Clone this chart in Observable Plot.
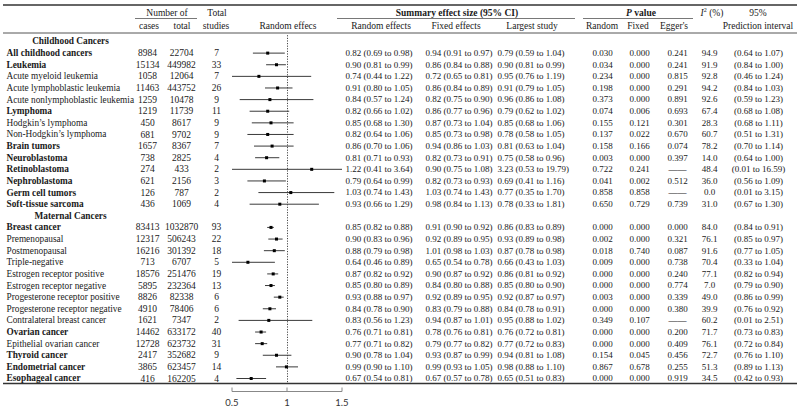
<!DOCTYPE html>
<html><head><meta charset="utf-8">
<script src="https://cdn.jsdelivr.net/npm/d3@7"></script>
<script src="https://cdn.jsdelivr.net/npm/@observablehq/plot@0.6"></script>
<style>
html,body{margin:0;padding:0;background:#fff;}
svg{display:block;}
</style>
</head><body><div id="chart"></div>
<script>
// ---------------- DATA ----------------
const sections = ["Childhood Cancers", "Maternal Cancers"];
const sectionSizes = [14, 14];

const names = [
  "All childhood cancers","Leukemia","Acute myeloid leukemia","Acute lymphoblastic leukemia",
  "Acute nonlymphoblastic leukemia","Lymphoma","Hodgkin\u2019s lymphoma","Non-Hodgkin\u2019s lymphoma",
  "Brain tumors","Neuroblastoma","Retinoblastoma","Nephroblastoma","Germ cell tumors","Soft-tissue sarcoma",
  "Breast cancer","Premenopausal","Postmenopausal","Triple-negative","Estrogen receptor positive",
  "Estrogen receptor negative","Progesterone receptor positive","Progesterone receptor negative",
  "Contralateral breast cancer","Ovarian cancer","Epithelial ovarian cancer","Thyroid cancer",
  "Endometrial cancer","Esophageal cancer"
];
const boldNames = [
  "All childhood cancers","Leukemia","Lymphoma","Brain tumors","Neuroblastoma","Retinoblastoma",
  "Nephroblastoma","Germ cell tumors","Soft-tissue sarcoma","Breast cancer","Ovarian cancer",
  "Thyroid cancer","Endometrial cancer","Esophageal cancer"
];
const cases = [8984,15134,1058,11463,1259,1219,450,681,1657,738,274,621,126,436,
  83413,12317,16216,713,18576,5895,8826,4910,1621,14462,12728,2417,3865,416];
const totals = [22704,449982,12064,443752,10478,11739,8617,9702,8367,2825,433,2156,787,1069,
  1032870,506243,301392,6707,251476,232364,82338,78406,7347,633172,623732,352682,623457,162205];
const studies = [7,33,7,26,9,11,9,9,7,4,2,3,2,4, 93,22,18,5,19,13,6,6,2,40,31,9,14,4];

// random effects (forest plot)
const reEst = [0.82,0.90,0.74,0.91,0.84,0.82,0.85,0.82,0.86,0.81,1.22,0.79,1.03,0.93,
  0.85,0.90,0.88,0.64,0.87,0.85,0.93,0.84,0.83,0.76,0.77,0.90,0.99,0.67];
const reLo = [0.69,0.81,0.44,0.80,0.57,0.66,0.68,0.64,0.70,0.71,0.41,0.64,0.74,0.66,
  0.82,0.83,0.79,0.46,0.82,0.80,0.88,0.78,0.56,0.71,0.71,0.78,0.90,0.54];
const reHi = [0.98,0.99,1.22,1.05,1.24,1.02,1.06,1.06,1.06,0.93,3.64,0.99,1.43,1.29,
  0.88,0.96,0.98,0.89,0.92,0.89,0.97,0.90,1.23,0.81,0.82,1.04,1.10,0.81];

// printed summary effect sizes (95% CI)
const reText = ["0.82 (0.69 to 0.98)","0.90 (0.81 to 0.99)","0.74 (0.44 to 1.22)","0.91 (0.80 to 1.05)",
  "0.84 (0.57 to 1.24)","0.82 (0.66 to 1.02)","0.85 (0.68 to 1.30)","0.82 (0.64 to 1.06)",
  "0.86 (0.70 to 1.06)","0.81 (0.71 to 0.93)","1.22 (0.41 to 3.64)","0.79 (0.64 to 0.99)",
  "1.03 (0.74 to 1.43)","0.93 (0.66 to 1.29)",
  "0.85 (0.82 to 0.88)","0.90 (0.83 to 0.96)","0.88 (0.79 to 0.98)","0.64 (0.46 to 0.89)",
  "0.87 (0.82 to 0.92)","0.85 (0.80 to 0.89)","0.93 (0.88 to 0.97)","0.84 (0.78 to 0.90)",
  "0.83 (0.56 to 1.23)","0.76 (0.71 to 0.81)","0.77 (0.71 to 0.82)","0.90 (0.78 to 1.04)",
  "0.99 (0.90 to 1.10)","0.67 (0.54 to 0.81)"];
const feText = ["0.94 (0.91 to 0.97)","0.86 (0.84 to 0.88)","0.72 (0.65 to 0.81)","0.86 (0.84 to 0.89)",
  "0.82 (0.75 to 0.90)","0.86 (0.77 to 0.96)","0.87 (0.73 to 1.04)","0.85 (0.73 to 0.98)",
  "0.94 (0.86 to 1.03)","0.82 (0.73 to 0.91)","0.90 (0.75 to 1.08)","0.82 (0.73 to 0.93)",
  "1.03 (0.74 to 1.43)","0.98 (0.84 to 1.13)",
  "0.91 (0.90 to 0.92)","0.92 (0.89 to 0.95)","1.01 (0.98 to 1.03)","0.65 (0.54 to 0.78)",
  "0.90 (0.87 to 0.92)","0.84 (0.80 to 0.88)","0.92 (0.89 to 0.95)","0.83 (0.79 to 0.88)",
  "0.94 (0.87 to 1.01)","0.78 (0.76 to 0.81)","0.79 (0.77 to 0.82)","0.93 (0.87 to 0.99)",
  "0.99 (0.93 to 1.05)","0.67 (0.57 to 0.78)"];
const lsText = ["0.79 (0.59 to 1.04)","0.90 (0.81 to 0.99)","0.95 (0.76 to 1.19)","0.91 (0.79 to 1.05)",
  "0.96 (0.86 to 1.08)","0.79 (0.62 to 1.02)","0.85 (0.68 to 1.06)","0.78 (0.58 to 1.05)",
  "0.81 (0.63 to 1.04)","0.75 (0.58 to 0.96)","3.23 (0.53 to 19.79)","0.69 (0.41 to 1.16)",
  "0.77 (0.35 to 1.70)","0.78 (0.33 to 1.81)",
  "0.86 (0.83 to 0.89)","0.93 (0.89 to 0.98)","0.87 (0.78 to 0.98)","0.66 (0.43 to 1.03)",
  "0.86 (0.81 to 0.92)","0.85 (0.80 to 0.90)","0.92 (0.87 to 0.97)","0.84 (0.78 to 0.91)",
  "0.95 (0.88 to 1.02)","0.76 (0.72 to 0.81)","0.77 (0.72 to 0.83)","0.94 (0.81 to 1.08)",
  "0.98 (0.88 to 1.10)","0.65 (0.51 to 0.83)"];
const pRandom = ["0.030","0.034","0.234","0.198","0.373","0.074","0.155","0.137","0.158","0.003","0.722","0.041","0.858","0.650",
  "0.000","0.002","0.018","0.009","0.000","0.000","0.003","0.000","0.349","0.000","0.000","0.154","0.867","0.000"];
const pFixed = ["0.000","0.000","0.000","0.000","0.000","0.006","0.121","0.022","0.166","0.000","0.241","0.002","0.858","0.729",
  "0.000","0.000","0.740","0.000","0.000","0.000","0.000","0.000","0.107","0.000","0.000","0.045","0.678","0.000"];
const pEgger = ["0.241","0.241","0.815","0.291","0.891","0.693","0.301","0.670","0.074","0.397",null,"0.512",null,"0.739",
  "0.000","0.321","0.087","0.738","0.240","0.774","0.339","0.380",null,"0.200","0.409","0.456","0.255","0.919"];
const i2 = ["94.9","91.9","92.8","94.2","92.6","67.4","28.3","60.7","78.2","14.0","48.4","36.0","0.0","31.0",
  "84.0","76.1","91.6","70.4","77.1","7.0","49.0","39.9","60.2","71.7","76.1","72.7","51.3","34.5"];
const predInterval = ["(0.64 to 1.07)","(0.84 to 1.00)","(0.46 to 1.24)","(0.84 to 1.03)","(0.59 to 1.23)",
  "(0.68 to 1.08)","(0.68 to 1.11)","(0.51 to 1.31)","(0.70 to 1.14)","(0.64 to 1.00)","(0.01 to 16.59)",
  "(0.56 to 1.09)","(0.01 to 3.15)","(0.67 to 1.30)",
  "(0.84 to 0.91)","(0.85 to 0.97)","(0.77 to 1.05)","(0.33 to 1.04)","(0.82 to 0.94)","(0.79 to 0.90)",
  "(0.86 to 0.99)","(0.76 to 0.92)","(0.01 to 2.51)","(0.73 to 0.83)","(0.72 to 0.84)","(0.76 to 1.10)",
  "(0.89 to 1.13)","(0.42 to 0.93)"];

const headerTop = ["Number of", "Total", "Summary effect size (95% CI)", "P value", "I2 (%)", "95%"];
const headerSub = ["cases","total","studies","Random effecs","Random effects","Fixed effects",
  "Largest study","Random","Fixed","Egger's","Prediction interval"];
const axisTicks = [0.5, 1, 1.5];

// ---------------- BUILD ROWS ----------------
const sectionRows = [];
const dataRows = [];
{
  let r = 0, k = 0;
  sections.forEach((s, si) => {
    sectionRows.push({row: r++, label: s});
    for (let j = 0; j < sectionSizes[si]; j++, k++) {
      dataRows.push({
        row: r++, name: names[k], bold: boldNames.includes(names[k]),
        cases: String(cases[k]), total: String(totals[k]), studies: String(studies[k]),
        est: reEst[k], lo: reLo[k], hi: reHi[k],
        re: reText[k], fe: feText[k], ls: lsText[k],
        pr: pRandom[k], pf: pFixed[k], pe: pEgger[k] == null ? "\u2014\u2014" : pEgger[k],
        i2: i2[k], pi: predInterval[k]
      });
    }
  });
}
const nRows = sectionRows.length + dataRows.length;

// ---------------- LAYOUT ----------------
const SERIF = "'Liberation Serif','Times New Roman',Times,serif";
const SANS = "Lato,'Open Sans',sans-serif";
const FS = 9.5;
const NFS = 9.3;
const INK = "#1a1a1a";
const colX = {name: 6, section: 70, cases: 147, total: 181, studies: 216,
  re: 345, fe: 425, ls: 497, pr: 602, pf: 639, pe: 677, i2: 709, pi: 758};
const topX = [167, 217, 457, 641, 712, 758];
const subX = [149, 182, 216, 288, 381, 456, 532, 602, 638, 674, 758];

function textCol(data, key, dx, anchor, extra = {}) {
  return Plot.text(data, {y: "row", text: key, frameAnchor: "left", dx, textAnchor: anchor,
    fill: INK, fontSize: FS, ...extra});
}

function headerMark(index, scales, values, dims) {
  const g = d3.create("svg:g").attr("font-family", SERIF).attr("font-size", FS).attr("fill", INK);
  const line = (x1, x2, y, w, c) => g.append("line").attr("x1", x1).attr("x2", x2)
    .attr("y1", y).attr("y2", y).attr("stroke", c).attr("stroke-width", w);
  line(3, 797, 5, 1.5, "#333");
  line(3, 797, 33, 1, "#555");
  line(3, 797, 383.5, 1.5, "#333");
  line(135, 197, 18.5, 0.8, "#555");
  line(337, 575, 18.5, 0.8, "#555");
  line(583, 693, 18.5, 0.8, "#555");
  headerTop.forEach((t, i) => {
    const tx = g.append("text").attr("x", topX[i]).attr("y", 13).attr("dy", "0.32em").attr("text-anchor", "middle");
    if (t === "P value") {
      tx.attr("font-weight", "bold");
      tx.append("tspan").attr("font-style", "italic").text("P");
      tx.append("tspan").text(" value");
    } else if (t.startsWith("I2")) {
      tx.append("tspan").attr("font-style", "italic").text("I");
      tx.append("tspan").attr("font-size", 6).attr("dy", "-0.6em").text("2");
      tx.append("tspan").attr("dy", "0.35em").text(" (%)");
    } else {
      if (t.startsWith("Summary")) tx.attr("font-weight", "bold");
      tx.text(t);
    }
  });
  headerSub.forEach((t, i) => {
    g.append("text").attr("x", subX[i]).attr("y", 26).attr("dy", "0.32em")
      .attr("text-anchor", "middle").text(t);
  });
  return g.node();
}

function axisMark(index, scales) {
  const x = scales.x;
  const g = d3.create("svg:g").attr("stroke", "#888").attr("fill", "none");
  const y0 = 391.5;
  g.append("line").attr("x1", x(axisTicks[0])).attr("x2", x(axisTicks[axisTicks.length - 1]))
    .attr("y1", y0).attr("y2", y0);
  axisTicks.forEach(t => {
    g.append("line").attr("x1", x(t)).attr("x2", x(t)).attr("y1", y0 - 4).attr("y2", y0);
    g.append("text").attr("x", x(t)).attr("y", 403).attr("dy", "0.32em").attr("text-anchor", "middle")
      .attr("stroke", "none").attr("fill", "#333").attr("font-family", SANS).attr("font-size", 9.5)
      .text(String(t));
  });
  return g.node();
}

const chart = Plot.plot({
  width: 800, height: 409,
  marginTop: 0, marginRight: 0, marginBottom: 0, marginLeft: 0,
  style: {fontFamily: SERIF, fontSize: FS + "px", background: "#fff", color: INK},
  x: {domain: [0.5, 1.5], range: [232, 342], clamp: true, axis: null},
  y: {domain: [0, nRows - 1], range: [41, 378], axis: null},
  marks: [
    headerMark,
    Plot.ruleX([1], {y1: -0.5, y2: 29.4, stroke: "#333", strokeWidth: 0.9, strokeDasharray: "1.2,1.4"}),
    Plot.ruleY(dataRows, {y: "row", x1: "lo", x2: "hi", stroke: "#3a3a3a", strokeWidth: 1}),
    Plot.dot(dataRows, {x: "est", y: "row", symbol: "square", r: 1.7, fill: "#000", stroke: "none"}),
    axisMark,
    textCol(sectionRows, "label", colX.section, "middle", {fontWeight: "bold", fontSize: NFS}),
    textCol(dataRows.filter(d => d.bold), "name", colX.name, "start", {fontWeight: "bold", fontSize: NFS}),
    textCol(dataRows.filter(d => !d.bold), "name", colX.name, "start", {fontSize: NFS}),
    textCol(dataRows, "cases", colX.cases, "middle"),
    textCol(dataRows, "total", colX.total, "middle"),
    textCol(dataRows, "studies", colX.studies, "middle"),
    textCol(dataRows, "re", colX.re, "start", {fontSize: 9}),
    textCol(dataRows, "fe", colX.fe, "start", {fontSize: 9}),
    textCol(dataRows, "ls", colX.ls, "start", {fontSize: 9}),
    textCol(dataRows, "pr", colX.pr, "middle", {fontSize: 9}),
    textCol(dataRows, "pf", colX.pf, "middle", {fontSize: 9}),
    textCol(dataRows, "pe", colX.pe, "middle", {fontSize: 9}),
    textCol(dataRows, "i2", colX.i2, "middle", {fontSize: 9}),
    textCol(dataRows, "pi", colX.pi, "middle", {fontSize: 9})
  ]
});
document.getElementById("chart").appendChild(chart);
</script>
</body></html>
